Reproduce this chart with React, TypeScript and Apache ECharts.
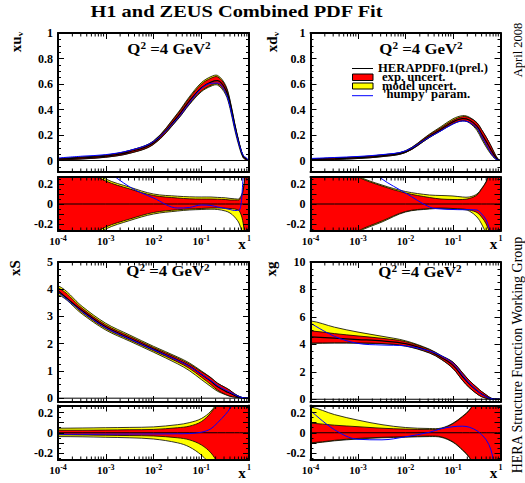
import React, { useEffect, useRef } from 'react';
import * as echarts from 'echarts';

const FONT = '"Liberation Serif", "Times New Roman", Times, serif';

// x grid (Bjorken x)
const X = [1e-4, 3.2e-4, 1e-3, 3.2e-3, 1e-2, 3.2e-2, 5.6e-2, 0.1, 0.16, 0.22, 0.32, 0.4, 0.5, 0.63, 0.76, 0.87, 1.0];

// xu_v : central value and fractional uncertainties
const UV_C = [0.01, 0.02, 0.034, 0.068, 0.14, 0.345, 0.465, 0.57, 0.615, 0.626, 0.56, 0.45, 0.28, 0.125, 0.03, 0.013, 0];
const UV_EXP_UP = [0.5, 0.36, 0.23, 0.15, 0.085, 0.06, 0.052, 0.05, 0.05, 0.048, 0.045, 0.04, 0.04, 0.045, 0.14, 0.4, 0.6];
const UV_EXP_DN = [-0.5, -0.36, -0.23, -0.15, -0.085, -0.058, -0.05, -0.045, -0.04, -0.04, -0.042, -0.045, -0.05, -0.07, -0.2, -0.45, -0.6];
const UV_TOT_UP = [0.55, 0.4, 0.25, 0.168, 0.1, 0.078, 0.072, 0.07, 0.07, 0.066, 0.062, 0.056, 0.052, 0.055, 0.15, 0.42, 0.6];
const UV_TOT_DN = [-0.55, -0.4, -0.25, -0.165, -0.1, -0.07, -0.06, -0.055, -0.052, -0.055, -0.07, -0.09, -0.13, -0.2, -0.35, -0.5, -0.6];
const UV_HUMPY = [1.0, 0.7, 0.36, 0.17, 0.06, -0.04, -0.035, -0.01, -0.015, -0.03, -0.045, -0.055, -0.065, -0.06, 0.3, 0.7, 0.9];

// xd_v
const DV_C = [0.008, 0.014, 0.022, 0.037, 0.068, 0.19, 0.245, 0.303, 0.329, 0.318, 0.27, 0.21, 0.15, 0.085, 0.035, 0.01, 0];
const DV_EXP_UP = [0.6, 0.42, 0.27, 0.18, 0.11, 0.065, 0.05, 0.045, 0.045, 0.055, 0.09, 0.15, 0.22, 0.35, 0.5, 0.6, 0.6];
const DV_EXP_DN = [-0.6, -0.42, -0.27, -0.17, -0.075, -0.045, -0.04, -0.045, -0.05, -0.06, -0.085, -0.13, -0.2, -0.33, -0.5, -0.6, -0.6];
const DV_TOT_UP = [0.62, 0.44, 0.28, 0.19, 0.125, 0.09, 0.085, 0.08, 0.07, 0.07, 0.1, 0.155, 0.225, 0.35, 0.5, 0.6, 0.6];
const DV_TOT_DN = [-0.62, -0.44, -0.28, -0.18, -0.08, -0.05, -0.045, -0.05, -0.055, -0.07, -0.13, -0.2, -0.3, -0.42, -0.55, -0.6, -0.6];
const DV_HUMPY = [1.0, 0.7, 0.45, 0.25, 0.11, -0.03, -0.05, -0.055, -0.057, -0.057, -0.06, -0.1, -0.16, -0.3, -0.45, -0.6, -0.7];

// xS (sea)
const S_C = [3.95, 3.22, 2.62, 2.2, 1.8, 1.4, 1.18, 0.88, 0.62, 0.42, 0.26, 0.18, 0.1, 0.04, 0.01, 0.002, 0];
const S_EXP_UP = [0.025, 0.025, 0.027, 0.03, 0.033, 0.05, 0.065, 0.11, 0.2, 0.3, 0.5, 0.6, 0.6, 0.6, 0.6, 0.6, 0.6];
const S_EXP_DN = [-0.02, -0.022, -0.025, -0.028, -0.032, -0.05, -0.07, -0.12, -0.2, -0.3, -0.45, -0.6, -0.6, -0.6, -0.6, -0.6, -0.6];
const S_TOT_UP = [0.045, 0.047, 0.05, 0.053, 0.058, 0.08, 0.1, 0.14, 0.215, 0.31, 0.5, 0.6, 0.6, 0.6, 0.6, 0.6, 0.6];
const S_TOT_DN = [-0.038, -0.04, -0.045, -0.05, -0.062, -0.1, -0.14, -0.22, -0.32, -0.4, -0.5, -0.6, -0.6, -0.6, -0.6, -0.6, -0.6];
const S_HUMPY = [-0.015, -0.015, -0.014, -0.013, -0.012, -0.01, -0.008, 0.005, 0.04, 0.1, 0.18, 0.24, 0.31, 0.38, 0.42, 0.42, 0.42];

// xg (gluon)
const G_C = [4.55, 4.45, 4.35, 4.25, 4.05, 3.5, 3.05, 2.47, 1.64, 1.12, 0.63, 0.375, 0.2, 0.05, 0.012, 0.003, 0];
const G_EXP_UP = [0.095, 0.075, 0.06, 0.045, 0.036, 0.033, 0.04, 0.09, 0.16, 0.22, 0.35, 0.5, 0.6, 0.6, 0.6, 0.6, 0.6];
const G_EXP_DN = [-0.1, -0.075, -0.056, -0.045, -0.039, -0.033, -0.04, -0.09, -0.17, -0.24, -0.38, -0.5, -0.6, -0.6, -0.6, -0.6, -0.6];
const G_TOT_UP = [0.255, 0.18, 0.125, 0.08, 0.052, 0.042, 0.046, 0.095, 0.165, 0.225, 0.35, 0.5, 0.6, 0.6, 0.6, 0.6, 0.6];
const G_TOT_DN = [-0.105, -0.08, -0.062, -0.05, -0.044, -0.038, -0.045, -0.095, -0.175, -0.245, -0.38, -0.5, -0.6, -0.6, -0.6, -0.6, -0.6];
const G_HUMPY = [0.22, 0.03, -0.065, -0.07, -0.04, 0.005, 0.04, 0.06, 0.065, 0.055, 0.02, -0.02, -0.07, -0.17, -0.35, -0.5, -0.6];

const PANEL_NAMES = ['xu|v', 'xd|v', 'xS|', 'xg|'];
const Q2_TEXT = '{a|Q}{s|2}{a| =4 GeV}{s|2}';
const LEGEND_LABELS = ['HERAPDF0.1(prel.)', 'exp. uncert.', 'model uncert.', "'humpy' param."];
const TITLE = 'H1 and ZEUS Combined PDF Fit';
const DATE_TEXT = 'April 2008';
const GROUP_TEXT = 'HERA Structure Function Working Group';

const PANELS = [
  { c: UV_C, eu: UV_EXP_UP, ed: UV_EXP_DN, tu: UV_TOT_UP, td: UV_TOT_DN, h: UV_HUMPY, yMin: -0.09, yMax: 1, step: 0.2, col: 0, row: 0 },
  { c: DV_C, eu: DV_EXP_UP, ed: DV_EXP_DN, tu: DV_TOT_UP, td: DV_TOT_DN, h: DV_HUMPY, yMin: -0.09, yMax: 1, step: 0.2, col: 1, row: 0 },
  { c: S_C, eu: S_EXP_UP, ed: S_EXP_DN, tu: S_TOT_UP, td: S_TOT_DN, h: S_HUMPY, yMin: -0.14, yMax: 5, step: 1, col: 0, row: 1 },
  { c: G_C, eu: G_EXP_UP, ed: G_EXP_DN, tu: G_TOT_UP, td: G_TOT_DN, h: G_HUMPY, yMin: -0.2, yMax: 10, step: 2, col: 1, row: 1 },
];

const COL_LEFT = [58, 310.5];
const COL_WIDTH = [191, 190];
const MAIN_TOP = [33, 262];
const MAIN_HEIGHT = [139, 140];
const RATIO_TOP = [177, 405.5];
const RATIO_HEIGHT = [54, 54.5];
const RATIO_MIN = -0.27;
const RATIO_MAX = 0.27;
const RATIO_STEP = 0.2;

const MINOR_TICKS_X: number[] = [];
for (let e = -4; e < 0; e++) for (let k = 2; k <= 9; k++) MINOR_TICKS_X.push(k * Math.pow(10, e));

const SMOOTH = 0.35;

function fmtNum(v: number) {
  return String(Number(v.toFixed(3)));
}

function yFormatter(step: number) {
  return (v: number) => {
    const r = v / step;
    if (Math.abs(r - Math.round(r)) > 1e-6) return '';
    return fmtNum(v);
  };
}

function xFormatter(v: number) {
  const e = Math.round(Math.log10(v));
  return e === 0 ? '{s|1}' : '{b|10}{s|' + e + '}';
}

function buildOption() {
  const grid: any[] = [];
  const xAxis: any[] = [];
  const yAxis: any[] = [];
  const series: any[] = [];

  const addGrid = (left: number, top: number, width: number, height: number, yMin: number, yMax: number, step: number, isRatio: boolean) => {
    const gi = grid.length;
    grid.push({ left, top, width, height, show: false, containLabel: false, outerBoundsMode: 'none' });
    const axisLine = { show: true, onZero: false, lineStyle: { color: '#000', width: 2 } };
    const axisTick = { show: true, inside: true, length: 6, lineStyle: { color: '#000', width: 1 } };
    ['bottom', 'top'].forEach((pos) => {
      const showLab = pos === 'bottom' && isRatio;
      xAxis.push({
        gridIndex: gi, type: 'log', logBase: 10, min: 1e-4, max: 1, position: pos, z: 5,
        axisLine, axisTick, splitLine: { show: false },
        axisLabel: showLab
          ? {
              show: true, margin: 3, color: '#000', formatter: xFormatter,
              rich: {
                b: { fontFamily: FONT, fontWeight: 'bold', fontSize: 11, color: '#000', lineHeight: 14 },
                s: { fontFamily: FONT, fontWeight: 'bold', fontSize: 8, color: '#000', padding: [0, 0, 6, 0] },
              },
            }
          : { show: false },
        name: showLab ? 'x' : '',
        nameLocation: 'end',
        nameGap: -7,
        nameMoveOverlap: false,
        nameTextStyle: { fontFamily: FONT, fontWeight: 'bold', fontSize: 15, color: '#000', align: 'center', verticalAlign: 'top', padding: [5, 0, 0, 0] },
      });
    });
    ['left', 'right'].forEach((pos) => {
      yAxis.push({
        gridIndex: gi, type: 'value', min: yMin, max: yMax, position: pos, z: 5,
        axisLine, axisTick,
        minorTick: { show: true, splitNumber: isRatio ? 2 : 4, length: 3, lineStyle: { color: '#000', width: 1 } },
        splitLine: { show: false }, minorSplitLine: { show: false },
        axisLabel: pos === 'left'
          ? { show: true, margin: 5, color: '#000', fontFamily: FONT, fontWeight: 'bold', fontSize: 12, formatter: yFormatter(step) }
          : { show: false },
      });
    });
    return gi;
  };

  const line = (ai: number, data: number[][], color: string, width: number, extra: any = {}) => ({
    type: 'line', xAxisIndex: ai, yAxisIndex: ai, data, symbol: 'none', showSymbol: false,
    smooth: SMOOTH, silent: true, lineStyle: { color, width }, emphasis: { disabled: true }, z: 3, ...extra,
  });

  // filled band (lower..upper) as one smoothed polygon, drawn through the axes' coord()
  const band = (ai: number, lo: number[], hi: number[], color: string) => ({
    type: 'custom', xAxisIndex: ai, yAxisIndex: ai, z: 2, silent: true, clip: true,
    data: X.map((x, i) => [x, lo[i], hi[i]]),
    encode: { x: 0, y: [1, 2] },
    renderItem: (params: any, api: any) => {
      if (params.dataIndexInside !== 0) return null;
      const n = params.dataInsideLength;
      const up: number[][] = [];
      const dn: number[][] = [];
      for (let j = 0; j < n; j++) {
        const x = api.value(0, j);
        up.push(api.coord([x, api.value(2, j)]));
        dn.push(api.coord([x, api.value(1, j)]));
      }
      const ext = (arr: number[][]) => [
        [arr[0][0] - 25, arr[0][1]],
        ...arr,
        [arr[arr.length - 1][0] + 25, arr[arr.length - 1][1]],
      ];
      const pts = [...ext(up), ...ext(dn).reverse()];
      return {
        type: 'polygon',
        shape: { points: pts, smooth: SMOOTH },
        style: { fill: color, stroke: '#000', lineWidth: 0.8 },
      };
    },
  });

  const minorTicks = (ai: number) => ({
    type: 'custom', xAxisIndex: ai, yAxisIndex: ai, z: 6, silent: true,
    data: MINOR_TICKS_X.map((v) => [v, 0]),
    renderItem: (params: any, api: any) => {
      const px = api.coord([api.value(0), api.value(1)])[0];
      const cs = params.coordSys;
      const st = { stroke: '#000', lineWidth: 1 };
      return {
        type: 'group',
        children: [
          { type: 'line', shape: { x1: px, y1: cs.y + cs.height, x2: px, y2: cs.y + cs.height - 3.5 }, style: st },
          { type: 'line', shape: { x1: px, y1: cs.y, x2: px, y2: cs.y + 3.5 }, style: st },
        ],
      };
    },
  });

  PANELS.forEach((p) => {
    const left = COL_LEFT[p.col];
    const width = COL_WIDTH[p.col];
    // main panel
    const gm = addGrid(left, MAIN_TOP[p.row], width, MAIN_HEIGHT[p.row], p.yMin, p.yMax, p.step, false);
    const am = gm * 2;
    const scale = (f: number[]) => p.c.map((c, i) => c * (1 + f[i]));
    series.push(band(am, scale(p.td), scale(p.tu), '#ffff00'));
    series.push(band(am, scale(p.ed), scale(p.eu), '#ff0000'));
    series.push(line(am, [[1e-4, 0], [1, 0]], '#000', 1, { smooth: false }));
    series.push(line(am, X.map((x, i) => [x, p.c[i]]), '#000', 1.2));
    series.push(line(am, X.map((x, i) => [x, p.c[i] * (1 + p.h[i])]), '#0000ff', 1));
    series.push(minorTicks(am));
    // ratio panel
    const gr = addGrid(left, RATIO_TOP[p.row], width, RATIO_HEIGHT[p.row], RATIO_MIN, RATIO_MAX, RATIO_STEP, true);
    const ar = gr * 2;
    series.push(band(ar, p.td, p.tu, '#ffff00'));
    series.push(band(ar, p.ed, p.eu, '#ff0000'));
    series.push(line(ar, X.map((x) => [x, 0]), '#000', 1, { smooth: false }));
    series.push(line(ar, X.map((x, i) => [x, p.h[i]]), '#0000ff', 1));
    series.push(minorTicks(ar));
  });

  const txt = (x: number, y: number, text: string, size: number, opts: any = {}) => ({
    type: 'text', x, y, z: 20, silent: true,
    scaleX: opts.scaleX ?? 1.2,
    rotation: opts.rotation ?? 0,
    style: {
      text, fontFamily: FONT, fontWeight: opts.weight ?? 'bold', fontSize: size, fill: '#000',
      align: opts.align ?? 'center', verticalAlign: 'middle', rich: opts.rich,
    },
  });

  const q2Rich = {
    a: { fontFamily: FONT, fontWeight: 'bold', fontSize: 15, fill: '#000', color: '#000' },
    s: { fontFamily: FONT, fontWeight: 'bold', fontSize: 10, fill: '#000', color: '#000', padding: [0, 0, 7, 0] },
  };
  const nameRich = {
    a: { fontFamily: FONT, fontWeight: 'bold', fontSize: 15, fill: '#000', color: '#000' },
    b: { fontFamily: FONT, fontWeight: 'bold', fontSize: 9, fill: '#000', color: '#000', padding: [7, 0, 0, 0] },
  };
  const namePos = [[16, 42], [272, 42], [15, 268], [271, 269]];
  const q2Pos = [[169, 49], [421, 49], [168, 271], [420, 272]];

  const graphic: any[] = [];
  graphic.push(txt(236.5, 11, TITLE, 17));
  PANEL_NAMES.forEach((n, i) => {
    const [a, b] = n.split('|');
    const t = '{a|' + a + '}' + (b ? '{b|' + b + '}' : '');
    graphic.push(txt(namePos[i][0], namePos[i][1], t, 15, { rich: nameRich, rotation: Math.PI / 2, scaleX: 1 }));
  });
  q2Pos.forEach(([x, y]) => graphic.push(txt(x, y, Q2_TEXT, 15, { rich: q2Rich, scaleX: 1.12 })));

  // legend
  graphic.push({ type: 'line', z: 20, shape: { x1: 352, y1: 68.5, x2: 373, y2: 68.5 }, style: { stroke: '#000', lineWidth: 1 } });
  graphic.push({ type: 'rect', z: 20, shape: { x: 352.5, y: 74, width: 20.5, height: 6.5 }, style: { fill: '#ff0000', stroke: '#000', lineWidth: 1 } });
  graphic.push({ type: 'rect', z: 20, shape: { x: 352.5, y: 83, width: 20.5, height: 6 }, style: { fill: '#ffff00', stroke: '#000', lineWidth: 1 } });
  graphic.push({ type: 'line', z: 20, shape: { x1: 352, y1: 95.7, x2: 373, y2: 95.7 }, style: { stroke: '#0000ff', lineWidth: 1 } });
  const legY = [68, 77, 86.5, 94.5];
  const legX = [378, 382, 382, 383];
  LEGEND_LABELS.forEach((l, i) => graphic.push(txt(legX[i], legY[i], l, 11.5, { align: 'left', scaleX: 1.1 })));

  graphic.push(txt(518, 50, DATE_TEXT, 12.5, { rotation: Math.PI / 2, scaleX: 1, weight: 'normal' }));
  graphic.push(txt(517.5, 355, GROUP_TEXT, 14, { rotation: Math.PI / 2, scaleX: 1, weight: 'normal' }));

  return {
    animation: false,
    backgroundColor: '#ffffff',
    textStyle: { fontFamily: FONT },
    grid, xAxis, yAxis, series, graphic,
  };
}

export default function App() {
  const ref = useRef<HTMLDivElement>(null);
  useEffect(() => {
    const chart = echarts.init(ref.current!, null, { renderer: 'svg' });
    chart.setOption(buildOption() as any);
    return () => chart.dispose();
  }, []);
  return <div ref={ref} style={{ position: 'absolute', left: 0, top: 0, width: 525, height: 483 }} />;
}
